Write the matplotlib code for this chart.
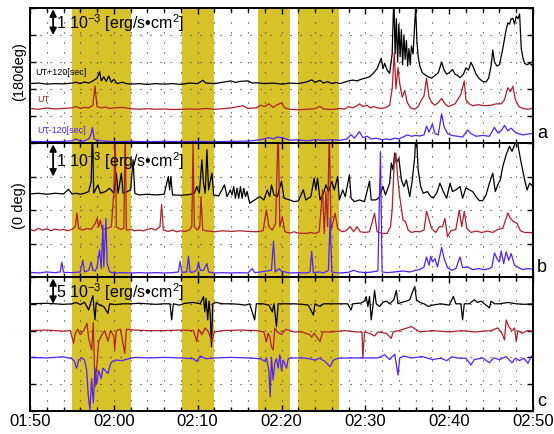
import numpy as np
import matplotlib.pyplot as plt
from matplotlib.ticker import MultipleLocator

plt.rcParams['font.family'] = ['Liberation Sans', 'DejaVu Sans']
plt.rcParams['mathtext.fontset'] = 'custom'
plt.rcParams['mathtext.rm'] = 'Liberation Sans'

# time axis: minutes after 01:50 UT
time_labels = ["01:50", "02:00", "02:10", "02:20", "02:30", "02:40", "02:50"]
band_start = [5.0, 18.1, 27.2, 32.0]
band_end = [12.0, 22.0, 31.0, 36.8]

# panel a (180deg), 1e-3 erg/s/cm2, traces stacked with offsets
a_black = [(0, 2.2), (1, 2.22), (2, 2.18), (3, 2.2), (4, 2.19), (5, 2.22), (5.5, 2.25), (6, 2.2),
           (6.5, 2.26), (7, 2.22), (7.5, 2.3), (8.0, 2.4), (8.3, 2.64), (8.5, 2.3), (8.8, 2.45),
           (9.1, 2.28), (9.4, 2.48), (9.7, 2.25), (10.0, 2.36), (10.4, 2.2), (11, 2.25), (11.5, 2.2),
           (12, 2.18), (13, 2.2), (14, 2.17), (15, 2.2), (16, 2.18), (17, 2.2), (18, 2.17), (19, 2.22),
           (20, 2.2), (20.6, 2.32), (21, 2.22), (22, 2.2), (23, 2.25), (24, 2.3), (24.5, 2.24),
           (25, 2.28), (26, 2.3), (26.5, 2.22), (27, 2.23), (28, 2.2), (29, 2.22), (30, 2.18),
           (31, 2.22), (32, 2.2), (33, 2.26), (33.6, 2.34), (34, 2.25), (34.6, 2.32), (35, 2.22),
           (35.5, 2.27), (36, 2.2), (36.5, 2.24), (37, 2.2), (37.5, 2.25), (38, 2.3), (38.5, 2.33),
           (39, 2.3), (39.5, 2.36), (40, 2.4), (40.5, 2.45), (41, 2.6), (41.4, 2.75), (41.9, 3.14),
           (42.1, 2.75), (42.3, 2.95), (42.6, 2.7), (42.9, 2.58), (43.2, 3.3), (43.4, 5.5),
           (43.55, 3.3), (43.7, 4.6), (43.85, 3.0), (44.0, 4.4), (44.15, 3.2), (44.3, 4.2),
           (44.45, 2.9), (44.6, 4.0), (44.75, 3.1), (44.9, 3.8), (45.05, 2.85), (45.2, 3.5),
           (45.35, 2.9), (45.5, 3.6), (45.7, 3.3), (45.85, 4.2), (46.0, 5.0), (46.15, 3.8),
           (46.3, 3.2), (46.5, 2.85), (46.8, 2.6), (47.1, 2.53), (47.5, 2.45), (47.9, 2.4),
           (48.3, 2.5), (48.7, 2.6), (49.1, 3.0), (49.4, 2.7), (49.7, 2.55), (50.0, 2.6), (50.4, 2.72),
           (50.7, 2.55), (51.0, 2.5), (51.3, 2.42), (51.7, 2.55), (52.0, 2.78), (52.3, 2.7),
           (52.6, 2.98), (52.9, 2.8), (53.2, 2.55), (53.6, 2.38), (54.0, 2.28), (54.4, 2.26),
           (54.7, 2.4), (55.0, 2.85), (55.2, 3.45), (55.4, 3.0), (55.7, 2.85), (56.0, 2.9),
           (56.4, 3.5), (56.8, 4.2), (57.0, 4.45), (57.2, 4.4), (57.4, 4.6), (57.6, 4.62),
           (57.8, 4.4), (58.0, 4.7), (58.2, 4.6), (58.4, 4.78), (58.6, 3.5), (58.8, 3.15),
           (59.0, 2.95), (59.3, 2.9), (59.6, 2.95), (60, 2.85)]
a_red = [(0, 1.28), (1, 1.25), (2, 1.3), (3, 1.26), (4, 1.28), (5, 1.3), (5.5, 1.35), (6, 1.28),
         (6.5, 1.32), (7, 1.3), (7.5, 1.4), (7.75, 2.11), (8.0, 1.35), (8.5, 1.3), (9, 1.33),
         (9.5, 1.28), (10, 1.3), (11, 1.32), (12, 1.27), (13, 1.25), (14, 1.27), (15, 1.25),
         (16, 1.26), (17, 1.24), (18, 1.25), (19, 1.26), (20, 1.25), (21, 1.28), (22, 1.25),
         (23, 1.27), (24, 1.3), (25.4, 1.38), (26, 1.28), (27, 1.3), (27.5, 1.4), (28, 1.35),
         (28.5, 1.45), (29, 1.32), (29.5, 1.42), (30, 1.48), (30.4, 1.3), (31, 1.25), (32, 1.23),
         (33, 1.25), (34, 1.27), (34.6, 1.36), (35, 1.26), (36, 1.24), (37, 1.28), (37.5, 1.25),
         (38, 1.35), (38.5, 1.3), (39, 1.38), (39.3, 1.45), (39.7, 1.35), (40.2, 1.4), (40.6, 1.3),
         (41, 1.35), (41.5, 1.3), (42, 1.28), (42.5, 1.32), (42.9, 1.4), (43.2, 2.0), (43.45, 3.35),
         (43.65, 2.0), (43.9, 2.8), (44.1, 2.2), (44.4, 1.7), (44.7, 1.95), (45.0, 1.5), (45.4, 1.3),
         (45.9, 1.25), (46.3, 1.35), (46.7, 1.6), (47.0, 1.75), (47.3, 2.4), (47.6, 1.7), (47.9, 1.5),
         (48.3, 1.4), (48.7, 1.5), (49.1, 1.65), (49.5, 1.45), (49.9, 1.35), (50.3, 1.4), (50.7, 1.45),
         (51.1, 1.65), (51.4, 1.8), (51.8, 2.3), (52.0, 1.6), (52.4, 1.45), (52.8, 1.38), (53.5, 1.42),
         (54.2, 1.38), (55, 1.4), (55.6, 1.45), (56.2, 1.45), (56.6, 1.6), (57.0, 2.05), (57.3, 1.9),
         (57.6, 2.1), (57.9, 1.6), (58.3, 1.35), (58.8, 1.28), (59.4, 1.25), (60, 1.28)]
a_blue = [(0, 0.06), (2, 0.05), (4, 0.06), (5, 0.08), (5.5, 0.15), (6, 0.06), (6.5, 0.08), (7, 0.15),
          (7.25, 0.3), (7.45, 0.57), (7.65, 0.15), (8, 0.1), (9, 0.07), (10, 0.05), (12, 0.06),
          (14, 0.05), (16, 0.06), (18, 0.05), (20, 0.06), (22, 0.05), (24, 0.06), (26, 0.07),
          (27.5, 0.12), (28.5, 0.2), (29, 0.15), (29.5, 0.22), (30.2, 0.19), (31, 0.1), (32, 0.12),
          (33, 0.08), (34, 0.12), (35, 0.1), (36, 0.12), (37, 0.1), (37.8, 0.15), (38.3, 0.31),
          (38.7, 0.18), (39.3, 0.42), (39.7, 0.2), (40.2, 0.25), (40.7, 0.15), (41.3, 0.18),
          (42, 0.12), (42.5, 0.15), (43, 0.12), (43.5, 0.18), (44, 0.15), (44.5, 0.22), (45, 0.3),
          (45.5, 0.25), (46, 0.28), (46.5, 0.26), (47, 0.3), (47.3, 0.62), (47.6, 0.4), (48.0, 0.7),
          (48.3, 0.35), (48.7, 0.3), (49.1, 1.08), (49.4, 0.6), (49.8, 0.35), (50.3, 0.28), (51, 0.25),
          (51.6, 0.22), (52.2, 0.48), (52.6, 0.35), (53.2, 0.25), (54, 0.28), (54.8, 0.25),
          (55.4, 0.58), (55.8, 0.38), (56.2, 0.45), (56.6, 0.65), (57, 0.45), (57.4, 0.55),
          (57.8, 0.42), (58.2, 0.35), (58.8, 0.3), (59.4, 0.33), (60, 0.36)]

# panel b (0 deg), 1e-3 erg/s/cm2
b_black = [(0, 2.48), (1, 2.5), (2, 2.47), (3, 2.5), (4, 2.48), (4.6, 2.62), (5, 2.48), (5.5, 2.5),
           (6, 2.47), (6.5, 2.5), (7, 2.55), (7.3, 2.85), (7.45, 4.5), (7.6, 2.5), (8.1, 2.75),
           (8.4, 2.5), (9, 2.55), (9.5, 2.65), (10, 2.5), (10.3, 3.1), (10.5, 2.5), (10.9, 3.1),
           (11.1, 2.5), (11.6, 2.55), (12.0, 2.6), (12.3, 3.5), (12.5, 2.5), (13, 2.45), (14, 2.47),
           (15, 2.45), (16, 2.47), (16.5, 3.0), (16.65, 2.6), (16.8, 3.0), (17, 2.45), (18, 2.44),
           (19, 2.46), (19.6, 2.5), (19.9, 2.7), (20.2, 2.5), (20.5, 3.5), (20.7, 2.8), (20.9, 2.5),
           (21.1, 3.8), (21.3, 2.6), (21.7, 3.1), (21.9, 2.45), (22.5, 2.42), (23.2, 2.75), (23.5, 2.4),
           (23.9, 2.6), (24.1, 2.45), (24.3, 2.7), (24.5, 2.35), (24.7, 2.65), (24.9, 2.35),
           (25.1, 2.7), (25.3, 2.35), (25.5, 2.65), (25.7, 2.4), (25.9, 2.55), (26.2, 2.2),
           (26.8, 2.3), (27.4, 2.4), (27.9, 2.3), (28.3, 2.6), (28.6, 2.4), (28.8, 2.75), (29.1, 2.45),
           (29.5, 2.4), (30.0, 2.86), (30.3, 2.35), (31, 2.3), (31.5, 2.25), (32, 2.27), (32.6, 2.6),
           (32.9, 2.3), (33.5, 2.4), (33.9, 2.95), (34.1, 2.6), (34.3, 2.95), (34.6, 2.3), (35.0, 2.5),
           (35.3, 2.75), (35.6, 2.55), (36.0, 2.85), (36.3, 2.6), (36.7, 3.0), (36.9, 2.3),
           (37.3, 2.6), (37.6, 2.4), (38.1, 3.05), (38.3, 2.35), (38.7, 2.25), (39.3, 2.3),
           (39.9, 2.25), (40.5, 2.86), (40.7, 2.3), (41.2, 2.3), (41.6, 2.35), (42.1, 2.7),
           (42.4, 2.45), (42.9, 2.8), (43.1, 3.4), (43.3, 3.2), (43.5, 3.7), (43.7, 3.4), (44.0, 3.55),
           (44.3, 2.9), (44.6, 2.7), (44.9, 2.9), (45.3, 2.4), (45.6, 2.9), (45.9, 3.6), (46.05, 4.5),
           (46.3, 3.2), (46.6, 2.7), (46.9, 2.5), (47.4, 2.55), (47.8, 2.4), (48.1, 2.36), (48.5, 2.5),
           (48.9, 2.8), (49.3, 2.55), (49.7, 2.35), (50.1, 2.8), (50.4, 2.55), (50.8, 2.6), (51.3, 2.7),
           (51.6, 2.35), (52.0, 2.66), (52.4, 2.6), (52.8, 2.55), (53.2, 2.4), (53.6, 2.28),
           (54.0, 2.28), (54.4, 2.45), (54.8, 2.8), (55.2, 3.1), (55.5, 2.55), (55.8, 2.75),
           (56.1, 2.9), (56.4, 3.3), (56.8, 3.65), (57.2, 3.9), (57.5, 3.75), (57.8, 3.95),
           (58.0, 4.3), (58.3, 3.8), (58.6, 3.4), (59.0, 2.9), (59.3, 2.6), (59.6, 2.8), (60, 2.7)]
b_red = [(0, 1.42), (0.5, 1.38), (1, 1.45), (1.5, 1.4), (2, 1.44), (2.5, 1.38), (3, 1.43), (3.5, 1.4),
         (4, 1.42), (4.5, 1.38), (5, 1.42), (5.4, 1.5), (5.6, 1.91), (5.8, 1.45), (6.3, 1.4),
         (6.8, 1.45), (7.3, 1.42), (7.8, 1.6), (8.0, 1.75), (8.2, 1.5), (8.4, 1.7), (8.6, 1.42),
         (9.2, 1.45), (9.7, 1.5), (10.0, 2.5), (10.15, 4.5), (10.3, 1.5), (10.8, 1.42), (11.2, 1.45),
         (11.35, 4.5), (11.5, 1.4), (12, 1.42), (12.5, 1.38), (13, 1.4), (13.5, 1.38), (14, 1.42),
         (14.5, 1.45), (15, 1.4), (15.5, 1.5), (15.7, 2.16), (15.9, 1.4), (16.5, 1.36), (17, 1.4),
         (17.5, 1.35), (18, 1.38), (18.5, 1.36), (19.0, 1.4), (19.3, 1.5), (19.45, 4.0), (19.6, 1.5),
         (20.0, 1.4), (20.25, 1.5), (20.4, 2.4), (20.6, 1.4), (21, 1.38), (22, 1.35), (23, 1.38),
         (24, 1.36), (25, 1.38), (26, 1.36), (27, 1.35), (27.8, 1.38), (28.2, 2.0), (28.5, 1.5),
         (28.9, 1.4), (29.3, 1.6), (29.6, 4.5), (29.8, 1.5), (30.1, 1.8), (30.4, 1.35), (31, 1.31),
         (31.5, 1.35), (32, 1.31), (33, 1.3), (33.5, 1.33), (34, 1.3), (34.5, 1.35), (34.9, 2.6),
         (35.1, 1.3), (35.3, 2.55), (35.5, 1.5), (35.7, 4.5), (35.9, 1.4), (36.1, 1.6), (36.4, 1.9),
         (36.7, 1.45), (37.2, 1.35), (37.7, 1.38), (38.2, 1.5), (38.6, 1.35), (39.0, 1.5),
         (39.4, 1.35), (39.9, 1.33), (40.5, 1.35), (41.1, 1.9), (41.4, 1.35), (42.0, 1.3),
         (42.6, 1.3), (43.0, 1.5), (43.2, 2.0), (43.45, 3.45), (43.65, 3.7), (43.85, 3.0),
         (44.1, 2.4), (44.5, 1.7), (44.8, 1.65), (45.1, 1.4), (45.5, 1.33), (46.0, 1.36),
         (46.5, 1.35), (47.0, 1.4), (47.3, 1.96), (47.5, 1.8), (47.9, 1.45), (48.4, 1.33),
         (48.8, 1.5), (49.2, 1.5), (49.5, 1.75), (49.8, 1.2), (50.2, 1.38), (50.8, 1.42),
         (51.2, 2.0), (51.5, 1.5), (51.8, 1.96), (52.1, 1.45), (52.6, 1.33), (53.2, 1.37),
         (53.9, 1.33), (54.6, 1.37), (55.2, 1.33), (55.8, 1.42), (56.4, 1.45), (57.0, 1.91),
         (57.3, 1.75), (57.7, 1.65), (58.1, 1.6), (58.5, 1.38), (59.0, 1.33), (59.5, 1.33), (60, 1.32)]
b_blue = [(0, 0.14), (1, 0.12), (2, 0.15), (3, 0.13), (3.6, 0.15), (3.8, 0.44), (4.0, 0.14), (5, 0.13),
          (6, 0.15), (6.3, 0.5), (6.5, 0.15), (7.0, 0.2), (7.3, 0.45), (7.5, 0.2), (7.8, 0.18),
          (8.0, 0.3), (8.3, 0.81), (8.5, 0.25), (8.7, 1.55), (8.8, 0.3), (9.06, 1.75), (9.2, 0.4),
          (9.5, 0.15), (10, 0.12), (11, 0.13), (12, 0.12), (13, 0.13), (14, 0.12), (15, 0.13),
          (16, 0.12), (17, 0.13), (17.7, 0.15), (17.9, 0.47), (18.1, 0.14), (18.7, 0.15),
          (18.9, 0.62), (19.1, 0.14), (19.5, 0.15), (19.9, 0.2), (20.1, 0.45), (20.3, 0.2),
          (20.7, 0.2), (21.1, 0.4), (21.3, 0.15), (22, 0.12), (23, 0.13), (24, 0.12), (25, 0.13),
          (26, 0.12), (26.5, 0.25), (26.8, 0.13), (27.5, 0.15), (28.2, 0.18), (28.8, 0.2),
          (29.05, 1.07), (29.25, 0.15), (29.7, 0.25), (30.0, 0.17), (31, 0.12), (32, 0.13),
          (33, 0.12), (33.4, 0.15), (33.6, 0.77), (33.8, 0.13), (34.5, 0.15), (35.0, 0.12),
          (35.6, 0.2), (35.8, 1.76), (36.0, 0.15), (36.5, 0.13), (37, 0.12), (38, 0.14), (38.6, 0.2),
          (39.2, 0.15), (40, 0.13), (40.8, 0.15), (41.5, 0.18), (41.8, 3.74), (42.0, 0.15),
          (42.6, 0.13), (43.5, 0.15), (44.5, 0.18), (45.3, 0.15), (46.0, 0.2), (46.5, 0.22),
          (47.0, 0.3), (47.3, 0.6), (47.6, 0.35), (47.8, 0.62), (48.0, 0.45), (48.3, 0.55),
          (48.6, 0.3), (49.1, 0.88), (49.4, 0.55), (49.8, 0.28), (50.3, 0.2), (50.8, 0.25),
          (51.3, 0.6), (51.6, 0.28), (52.2, 0.3), (52.8, 0.22), (53.5, 0.25), (54.2, 0.22),
          (54.8, 0.25), (55.1, 0.3), (55.4, 0.72), (55.7, 0.55), (56.0, 0.45), (56.2, 0.78),
          (56.5, 0.4), (56.8, 0.75), (57.1, 0.5), (57.4, 0.7), (57.8, 0.35), (58.3, 0.28),
          (58.8, 0.22), (59.3, 0.25), (60, 0.24)]

# panel c, units of 5e-3 erg/s/cm2
c_black = [(0, 4.0), (2, 4.02), (4, 3.98), (5, 4.0), (5.5, 4.05), (6.0, 3.97), (6.5, 4.06), (7.0, 3.77),
           (7.3, 4.1), (7.5, 4.3), (7.75, 3.4), (7.9, 4.05), (8.3, 3.95), (8.8, 3.9), (9.3, 3.64),
           (9.5, 4.0), (10.2, 3.97), (11, 4.0), (12, 4.0), (13, 4.02), (14, 4.0), (15, 3.98), (16, 4.0),
           (16.7, 4.0), (16.9, 3.4), (17.1, 4.0), (17.8, 3.95), (18.5, 4.02), (19.5, 4.05), (20.3, 4.0),
           (20.7, 4.27), (20.85, 3.7), (21.0, 4.2), (21.2, 3.4), (21.35, 4.1), (21.5, 3.6),
           (21.65, 2.4), (21.8, 4.0), (22.2, 4.05), (23, 4.0), (24, 4.0), (25, 3.98), (25.7, 3.95),
           (26.2, 4.0), (26.8, 3.4), (27.0, 4.0), (27.8, 4.0), (28.5, 3.95), (28.9, 3.7), (29.1, 4.0),
           (29.4, 3.15), (29.6, 4.0), (30.5, 4.0), (31.5, 4.0), (32.5, 3.98), (33.2, 3.95),
           (33.8, 3.58), (34.0, 4.0), (34.6, 3.9), (35.0, 4.0), (36, 4.0), (37, 4.0), (37.9, 4.0),
           (38.3, 3.77), (38.5, 4.0), (39.5, 4.03), (39.9, 4.1), (40.1, 4.27), (40.3, 3.9),
           (40.5, 4.27), (40.7, 3.4), (40.9, 3.9), (41.1, 4.5), (41.3, 4.0), (41.7, 3.9), (42.1, 4.05),
           (42.5, 4.1), (42.9, 4.0), (43.4, 4.15), (43.7, 4.5), (43.9, 4.0), (44.3, 4.05), (44.9, 4.1),
           (45.3, 4.15), (45.5, 4.33), (45.7, 4.5), (45.9, 4.64), (46.1, 4.15), (46.5, 4.05),
           (47, 4.0), (47.5, 3.9), (48, 3.95), (49, 4.0), (50, 3.95), (50.5, 4.27), (50.8, 4.0),
           (51.4, 4.0), (51.6, 3.4), (51.8, 4.0), (52.4, 4.0), (53.0, 4.15), (53.4, 4.05), (53.8, 4.1),
           (54.2, 4.0), (54.8, 3.85), (55.0, 4.1), (55.4, 4.0), (56.0, 4.0), (57, 4.05), (58, 4.0),
           (59, 3.98), (60, 4.0)]
c_red = [(0, 3.0), (2, 3.02), (4, 2.98), (4.8, 3.0), (5.2, 2.53), (5.4, 2.9), (5.7, 3.05), (6.0, 2.85),
         (6.4, 3.0), (6.8, 3.27), (7.0, 2.7), (7.35, 2.28), (7.55, 3.3), (7.75, 0.9), (7.95, 1.6),
         (8.2, 2.6), (8.5, 2.8), (8.9, 3.0), (9.3, 2.6), (9.6, 3.0), (10.0, 2.8), (10.1, 2.28),
         (10.3, 3.0), (10.8, 3.05), (11.3, 2.15), (11.5, 3.05), (12.5, 3.02), (14, 3.0), (16, 3.0),
         (18, 3.02), (19.5, 3.0), (19.9, 2.59), (20.1, 3.05), (20.5, 2.85), (20.9, 3.1), (21.3, 2.95),
         (21.7, 2.6), (22.0, 2.95), (23, 3.0), (25, 3.02), (27, 3.0), (27.9, 2.95), (28.2, 2.59),
         (28.4, 2.9), (28.6, 2.77), (28.8, 2.4), (29.0, 2.28), (29.2, 3.09), (29.5, 2.95), (30, 2.85),
         (30.5, 3.05), (31.5, 2.95), (32.5, 2.95), (33.4, 2.84), (33.6, 2.75), (33.9, 2.9),
         (34.6, 2.59), (34.9, 2.95), (36, 2.95), (37.5, 3.0), (39.0, 2.95), (39.6, 2.95),
         (39.7, 1.97), (39.9, 2.95), (40.5, 2.9), (41.1, 2.8), (41.5, 2.95), (42.5, 2.9), (43.1, 2.71),
         (43.3, 2.95), (44, 3.0), (45.5, 3.15), (46.5, 2.95), (48, 3.0), (50, 2.95), (51.5, 3.0),
         (53, 2.95), (55, 3.0), (55.8, 3.1), (56.3, 2.9), (56.6, 2.65), (56.8, 3.4), (57.1, 3.15),
         (57.5, 3.0), (57.8, 3.1), (58.0, 2.59), (58.2, 3.0), (58.7, 2.9), (59.3, 3.0), (60, 2.98)]
c_blue = [(0, 2.0), (2, 1.98), (4, 2.02), (5, 1.95), (5.3, 1.85), (5.56, 1.59), (5.8, 1.9), (6.2, 1.98),
          (6.5, 1.9), (6.76, 1.53), (6.96, 0.53), (7.15, 0.04), (7.35, 1.2), (7.55, 0.3), (7.75, 1.6),
          (7.95, 1.0), (8.2, 1.5), (8.5, 1.2), (8.7, 1.6), (9.0, 1.5), (9.3, 1.4), (9.6, 1.75),
          (9.8, 1.85), (10.2, 1.9), (11, 1.88), (11.5, 1.93), (12.5, 2.0), (14, 1.98), (16, 2.0),
          (18, 1.98), (19.5, 1.95), (19.9, 1.85), (20.3, 2.05), (21, 1.95), (22, 1.98), (24, 2.0),
          (26, 1.98), (27.5, 1.95), (28.0, 1.85), (28.2, 1.98), (28.5, 1.5), (28.65, 0.53),
          (28.8, 2.0), (29.0, 1.16), (29.2, 1.8), (29.4, 1.95), (29.6, 1.6), (29.8, 2.1), (30.0, 1.5),
          (30.2, 1.9), (30.4, 1.75), (30.6, 1.6), (30.8, 1.95), (31.2, 1.98), (32, 1.98), (33, 1.97),
          (34, 1.9), (34.5, 1.97), (35.2, 1.85), (35.8, 1.65), (36.2, 1.9), (36.8, 1.97), (38, 1.98),
          (40, 1.98), (41.5, 1.98), (42.3, 2.1), (42.9, 1.92), (43.5, 2.12), (43.9, 1.34),
          (44.1, 1.98), (44.6, 2.05), (45.5, 1.98), (46.8, 2.03), (48, 1.92), (49, 1.97), (49.7, 1.88),
          (50.3, 2.02), (51.2, 1.97), (52.0, 1.97), (52.6, 1.72), (53.0, 1.92), (54.0, 1.98),
          (54.8, 1.8), (55.3, 1.98), (56.0, 1.92), (56.8, 2.03), (57.5, 1.8), (57.9, 1.97),
          (58.4, 1.88), (58.9, 1.97), (59.4, 1.78), (59.8, 2.05), (60, 2.0)]

panels = [
    dict(series=[a_black, a_red, a_blue], ymax=5, ylabel="(180deg)", letter="a",
         scale="1 10$^{\\mathregular{-3}}$ [erg/s\u2022cm$^{\\mathregular{2}}$]", top=8, bottom=143),
    dict(series=[b_black, b_red, b_blue], ymax=4, ylabel="(0 deg)", letter="b",
         scale="1 10$^{\\mathregular{-3}}$ [erg/s\u2022cm$^{\\mathregular{2}}$]", top=143, bottom=277),
    dict(series=[c_black, c_red, c_blue], ymax=5, ylabel=None, letter="c",
         scale="5 10$^{\\mathregular{-3}}$ [erg/s\u2022cm$^{\\mathregular{2}}$]", top=277, bottom=411),
]
colors = ["black", "#b0202c", "#5022ff"]
W, H = 554, 434

fig = plt.figure(figsize=(W / 100, H / 100), dpi=100)
axes = []
for i, p in enumerate(panels):
    ax = fig.add_axes([30 / W, 1 - p["bottom"] / H, 503 / W, (p["bottom"] - p["top"]) / H])
    axes.append(ax)
    for s, e in zip(band_start, band_end):
        ax.axvspan(s, e, color="#d8c22a", lw=0, zorder=0.5)
    for data, c in zip(p["series"], colors):
        arr = np.array(data)
        ax.plot(arr[:, 0], arr[:, 1], color=c, lw=0.9)
    ax.set_xlim(0, 60)
    ax.set_ylim(0, p["ymax"])
    ax.xaxis.set_major_locator(MultipleLocator(10))
    ax.xaxis.set_minor_locator(MultipleLocator(2))
    ax.yaxis.set_major_locator(MultipleLocator(1))
    ax.grid(True, which="both", axis="x", color="#333333", lw=0.8, linestyle=(0, (1, 8)))
    ax.grid(True, which="major", axis="y", color="#333333", lw=0.8, linestyle=(0, (1, 8)))
    ax.tick_params(which="both", direction="in", top=True, right=True,
                   labelleft=False, labelbottom=(i == 2), labelsize=12, pad=2)
    ax.tick_params(which="major", length=4, width=1)
    ax.tick_params(which="minor", length=3, width=1)
    for sp in ax.spines.values():
        sp.set_linewidth(1.4)
    frac = 1 - 1.0 / p["ymax"]
    ax.annotate("", xy=(0.046, 0.99), xytext=(0.046, frac), xycoords="axes fraction",
                arrowprops=dict(arrowstyle="<|-|>", color="k", lw=1.3, mutation_scale=10,
                                shrinkA=0, shrinkB=0))
    ax.text(0.052, 1 - 0.5 / p["ymax"] - 0.01, p["scale"], transform=ax.transAxes,
            fontsize=11.5, ha="left", va="center")
    if p["ylabel"]:
        yc = (p["top"] + p["bottom"]) / 2 - 4
        fig.text(19 / W, 1 - yc / H, p["ylabel"], rotation=90, fontsize=10.5,
                 ha="center", va="center")
    fig.text(542 / W, 1 - (p["bottom"] - 10) / H, p["letter"], fontsize=13,
             ha="center", va="center")

axes[2].set_xticks(np.arange(0, 61, 10))
axes[2].set_xticklabels(time_labels)

axes[0].text(0.01, 0.52, "UT+120[sec]", transform=axes[0].transAxes, fontsize=6.5, color="black",
             ha="left", va="center")
axes[0].text(0.014, 0.32, "UT", transform=axes[0].transAxes, fontsize=6.5, color=colors[1],
             ha="left", va="center")
axes[0].text(0.014, 0.09, "UT-120[sec]", transform=axes[0].transAxes, fontsize=6.5, color=colors[2],
             ha="left", va="center")

fig.savefig("out.png", dpi=100)
